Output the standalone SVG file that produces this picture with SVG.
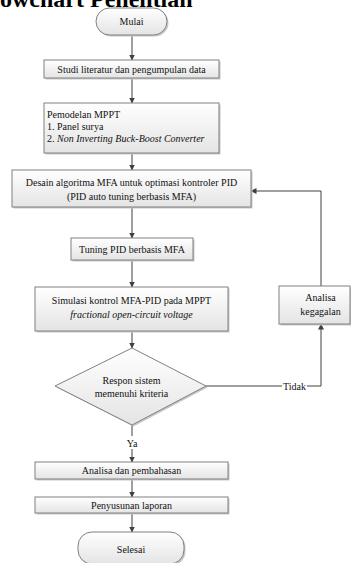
<svg xmlns="http://www.w3.org/2000/svg" width="351" height="563" viewBox="0 0 351 563">
<defs>
<linearGradient id="g" x1="0" y1="0" x2="0" y2="1">
<stop offset="0" stop-color="#ffffff"/>
<stop offset="1" stop-color="#e4e4e4"/>
</linearGradient>
<marker id="ah" markerWidth="6" markerHeight="6" refX="5.5" refY="3" orient="auto" markerUnits="userSpaceOnUse">
<path d="M0,0 L6,3 L0,6 Z" fill="#404040"/>
</marker>
</defs>
<style>
.n{fill:url(#g);stroke:#808080;stroke-width:1}
.sh{fill:#c8c8c8;stroke:none}
.t{font-family:"Liberation Serif","Times New Roman",serif;font-size:10px;fill:#111}
.c{text-anchor:middle}
.i{font-style:italic}
.ln{fill:none;stroke:#404040;stroke-width:1}
.title{font-family:"Liberation Serif","Times New Roman",serif;font-size:24px;font-weight:bold;fill:#000}
</style>
<rect width="351" height="563" fill="#ffffff"/>
<text class="title" x="0" y="7">owchart Penelitian</text>

<g id="connectors">
<line class="ln" x1="132" y1="35" x2="132" y2="60" marker-end="url(#ah)"/>
<line class="ln" x1="132" y1="78" x2="132" y2="103" marker-end="url(#ah)"/>
<line class="ln" x1="132" y1="153" x2="132" y2="170" marker-end="url(#ah)"/>
<line class="ln" x1="132" y1="207" x2="132" y2="238" marker-end="url(#ah)"/>
<line class="ln" x1="132" y1="260" x2="132" y2="287" marker-end="url(#ah)"/>
<line class="ln" x1="132" y1="331" x2="132" y2="348" marker-end="url(#ah)"/>
<line class="ln" x1="132" y1="425" x2="132" y2="436"/>
<line class="ln" x1="132" y1="449" x2="132" y2="462" marker-end="url(#ah)"/>
<line class="ln" x1="132" y1="479" x2="132" y2="497" marker-end="url(#ah)"/>
<line class="ln" x1="132" y1="513" x2="132" y2="532" marker-end="url(#ah)"/>
<polyline class="ln" points="206,386 282,386"/>
<polyline class="ln" points="307,386 321,386 321,324" marker-end="url(#ah)"/>
<polyline class="ln" points="321,286 321,191 251,191" marker-end="url(#ah)"/>
<text class="t c" x="132" y="447">Ya</text>
<text class="t c" x="294.5" y="389.5">Tidak</text>
</g>

<g id="mulai">
<rect class="sh" x="97.5" y="9.5" width="71" height="27" rx="13.5"/>
<rect class="n" x="96" y="8" width="71" height="27" rx="13.5"/>
<text class="t c" x="131.5" y="25">Mulai</text>
</g>

<g id="studi">
<rect class="sh" x="45.5" y="61.5" width="175" height="18"/>
<rect class="n" x="44" y="60" width="175" height="18"/>
<text class="t c" x="131.5" y="72.5">Studi literatur dan pengumpulan data</text>
</g>

<g id="pemodelan">
<rect class="sh" x="45.5" y="104.5" width="175" height="50"/>
<rect class="n" x="44" y="103" width="175" height="50"/>
<text class="t" x="47" y="117.5">Pemodelan MPPT</text>
<text class="t" x="47" y="129.5">1. Panel surya</text>
<text class="t" x="47" y="141.5">2. <tspan class="i">Non Inverting Buck-Boost Converter</tspan></text>
</g>

<g id="desain">
<rect class="sh" x="13.5" y="171.5" width="239" height="37"/>
<rect class="n" x="12" y="170" width="239" height="37"/>
<text class="t c" x="131.5" y="186">Desain algoritma MFA untuk optimasi kontroler PID</text>
<text class="t c" x="131.5" y="199.5">(PID auto tuning berbasis MFA)</text>
</g>

<g id="tuning">
<rect class="sh" x="72.5" y="239.5" width="122" height="22"/>
<rect class="n" x="71" y="238" width="122" height="22"/>
<text class="t c" x="132" y="252.5">Tuning PID berbasis MFA</text>
</g>

<g id="simulasi">
<rect class="sh" x="36.5" y="288.5" width="193" height="44"/>
<rect class="n" x="35" y="287" width="193" height="44"/>
<text class="t c" x="131.5" y="303.5">Simulasi kontrol MFA-PID pada MPPT</text>
<text class="t c i" x="131.5" y="318">fractional open-circuit voltage</text>
</g>

<g id="kegagalan">
<rect class="sh" x="280.5" y="287.5" width="71" height="38"/>
<rect class="n" x="279" y="286" width="71" height="38"/>
<text class="t c" x="320.5" y="300.5">Analisa</text>
<text class="t c" x="320.5" y="314.5">kegagalan</text>
</g>

<g id="respon">
<polygon class="sh" points="133.5,349.5 207.5,387.5 133.5,426.5 56.5,387.5"/>
<polygon class="n" points="132,348 206,386 132,425 55,386"/>
<text class="t c" x="131.5" y="383.5">Respon sistem</text>
<text class="t c" x="131.5" y="396.5">memenuhi kriteria</text>
</g>

<g id="analisa">
<rect class="sh" x="36.5" y="463.5" width="193" height="17"/>
<rect class="n" x="35" y="462" width="193" height="17"/>
<text class="t c" x="131.5" y="474">Analisa dan pembahasan</text>
</g>

<g id="penyusunan">
<rect class="sh" x="36.5" y="498.5" width="193" height="16"/>
<rect class="n" x="35" y="497" width="193" height="16"/>
<text class="t c" x="131.5" y="508.5">Penyusunan laporan</text>
</g>

<g id="selesai">
<rect class="sh" x="79.5" y="533.5" width="106" height="32" rx="14"/>
<rect class="n" x="78" y="532" width="106" height="32" rx="14"/>
<text class="t c" x="131" y="552.5">Selesai</text>
</g>
</svg>
